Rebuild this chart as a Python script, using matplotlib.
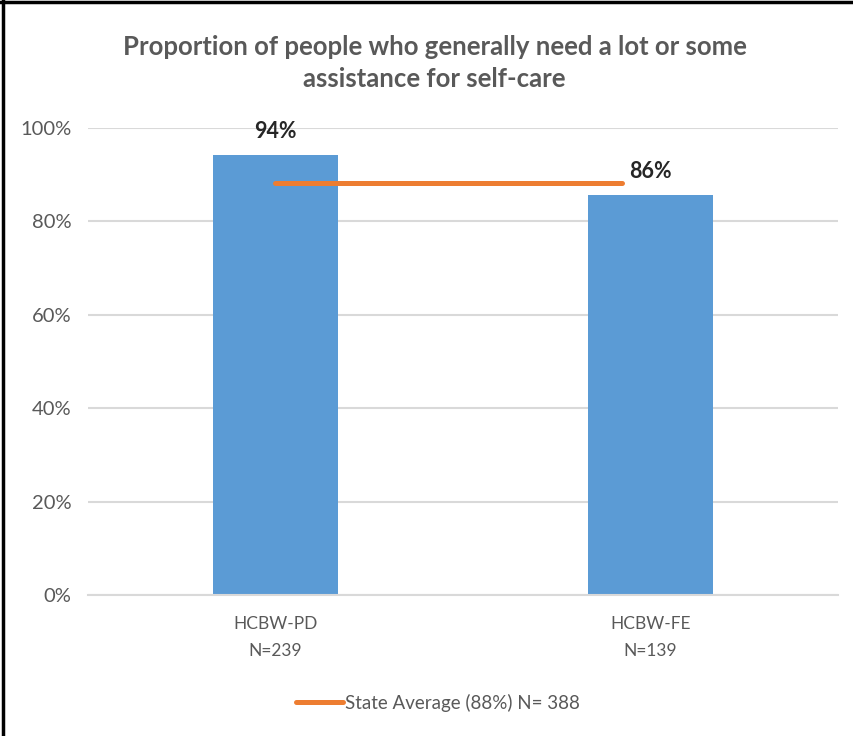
import numpy as np
import matplotlib.pyplot as plt
from matplotlib.lines import Line2D

categories = ["HCBW-PD\nN=239", "HCBW-FE\nN=139"]
values = [94.2, 85.7]
value_labels = ["94%", "86%"]
state_avg = 88.2
state_label = "State Average (88%) N= 388"
# the average line is drawn from the first bar centre to just short of the second
avg_x = [0, 0.925]
yticks = [0, 20, 40, 60, 80, 100]

title = "Proportion of people who generally need a lot or some\nassistance for self-care"

bar_c = "#5B9BD5"
line_c = "#ED7D31"
txt_c = "#595959"
grid_c = "#D9D9D9"

plt.rcParams["font.family"] = ["Lato", "DejaVu Sans"]

fig = plt.figure(figsize=(8.54, 7.36), dpi=100)
ax = fig.add_axes([0.103, 0.1916, 0.878, 0.6345])

x = np.arange(len(categories))
ax.bar(x, values, width=1/3, color=bar_c, zorder=2)
ax.plot(avg_x, [state_avg, state_avg], color=line_c, lw=3.6,
        solid_capstyle="round", zorder=3)

for xi, v, lab in zip(x, values, value_labels):
    ax.annotate(lab, (xi, v), xytext=(0, 17), textcoords="offset points",
                ha="center", va="center", fontsize=15.5, fontweight="bold",
                color="#262626", zorder=4)

ax.set_xlim(-0.5, 1.5)
ax.set_ylim(0, 100)
ax.set_yticks(yticks)
ax.set_yticklabels([f"{t}%" for t in yticks], fontsize=14.5, color=txt_c)
ax.set_xticks(x)
ax.set_xticklabels(categories, fontsize=12.5, color=txt_c, linespacing=1.85)
ax.tick_params(length=0, pad=12)
ax.tick_params(axis="x", pad=15)
ax.yaxis.grid(True, color=grid_c, lw=1.5, zorder=0)
for s in ["top", "right", "left"]:
    ax.spines[s].set_visible(False)
ax.spines["bottom"].set_color(grid_c)
ax.spines["bottom"].set_linewidth(1.5)

fig.text(0.509, 0.915, title, ha="center", va="center", fontsize=18.5,
         fontweight="bold", color=txt_c, linespacing=1.4)

h = Line2D([], [], color=line_c, lw=3.6, solid_capstyle="round")
fig.legend([h], [state_label], loc="center", bbox_to_anchor=(0.513, 0.045),
           frameon=False, fontsize=13.5, labelcolor=txt_c, handlelength=2.5,
           handletextpad=0.1)

# frame of the screenshot (left and top edges)
fig.add_artist(Line2D([0.003, 0.003], [0, 1], color="black", lw=2.5,
                      transform=fig.transFigure))
fig.add_artist(Line2D([0, 1], [0.997, 0.997], color="black", lw=2.5,
                      transform=fig.transFigure))

fig.savefig("out.png", dpi=100)
